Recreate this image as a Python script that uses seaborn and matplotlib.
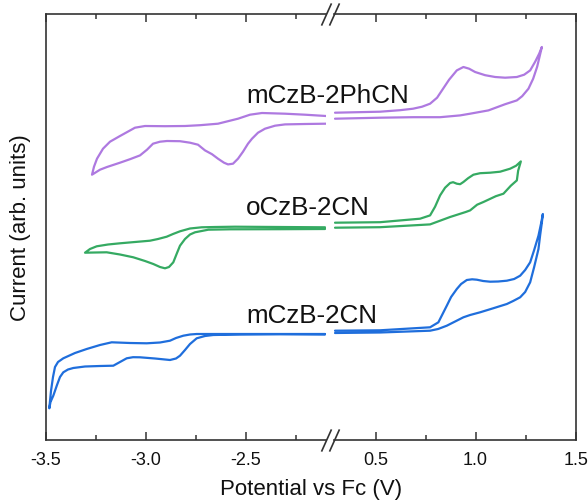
import numpy as np
import pandas as pd
import seaborn as sns
import matplotlib.pyplot as plt
from matplotlib.ticker import MultipleLocator

# cyclic voltammograms, potential (V vs Fc) and current (arb. units)
# left = reduction window, right = oxidation window
v_ph_left = [-2.099, -2.204, -2.304, -2.419, -2.479, -2.539, -2.589, -2.639, -2.729, -2.804,
             -2.904, -3.004, -3.054, -3.129, -3.179, -3.214, -3.244, -3.259, -3.269,
             -3.229, -3.194, -3.129, -3.079, -3.029, -2.994, -2.964, -2.929, -2.894, -2.829,
             -2.779, -2.739, -2.704, -2.669, -2.639, -2.609, -2.589, -2.564, -2.539, -2.514,
             -2.489, -2.469, -2.439, -2.404, -2.354, -2.304, -2.204, -2.099]
i_ph_left = [32.37, 32.5, 32.6, 32.67, 32.5, 32.1, 31.85, 31.6, 31.45, 31.37,
             31.35, 31.37, 31.2, 30.37, 29.8, 29.1, 28.1, 27.3, 26.5,
             27.0, 27.27, 27.7, 28.05, 28.43, 29.0, 29.6, 29.8, 29.87, 29.85,
             29.7, 29.5, 28.93, 28.55, 28.1, 27.7, 27.53, 27.6, 28.1, 28.8,
             29.6, 30.1, 30.7, 31.1, 31.4, 31.53, 31.57, 31.6]
v_ph_right = [0.2975, 0.5225, 0.6225, 0.6875, 0.7325, 0.7725, 0.8075, 0.8375, 0.8675, 0.906,
              0.939, 0.9675, 0.9975, 1.0475, 1.0975, 1.1475, 1.206, 1.2425, 1.2725, 1.2975,
              1.3175, 1.331, 1.3075, 1.2875, 1.264, 1.2325, 1.206, 1.1475, 1.064, 0.9725,
              0.9225, 0.8225, 0.6875, 0.5225, 0.2975]
i_ph_right = [32.7, 32.8, 32.95, 33.1, 33.3, 33.6, 34.2, 35.1, 36.0, 36.93,
              37.27, 37.1, 36.77, 36.45, 36.27, 36.2, 36.27, 36.5, 36.93, 37.8,
              38.6, 39.27, 37.3, 36.1, 35.1, 34.35, 33.93, 33.55, 32.93, 32.6,
              32.43, 32.25, 32.25, 32.2, 32.1]

v_o_left = [-2.104, -2.329, -2.554, -2.654, -2.7205, -2.779, -2.829, -2.864, -2.8955, -2.939,
            -2.979, -3.054, -3.129, -3.189, -3.2455, -3.279, -3.304,
            -3.254, -3.1955, -3.129, -3.0625, -3.004, -2.9625, -2.929, -2.904, -2.884,
            -2.8625, -2.844, -2.829, -2.804, -2.779, -2.754, -2.6875, -2.579, -2.329, -2.104]
i_o_left = [21.24, 21.27, 21.3, 21.27, 21.24, 21.12, 20.84, 20.57, 20.3, 20.07,
            19.9, 19.77, 19.64, 19.52, 19.34, 19.07, 18.7,
            18.72, 18.74, 18.52, 18.24, 17.87, 17.57, 17.27, 17.14, 17.27,
            17.74, 18.67, 19.4, 20.07, 20.52, 20.74, 21.0, 21.04, 21.05, 21.07]
v_o_right = [0.2975, 0.5225, 0.7225, 0.7725, 0.7975, 0.8225, 0.8475, 0.8725, 0.8875, 0.906,
             0.9225, 0.939, 0.9625, 0.989, 1.0225, 1.0725, 1.1225, 1.1725, 1.2025, 1.226,
             1.2125, 1.206, 1.176, 1.139, 1.101, 1.039, 1.0075, 0.9725, 0.9505, 0.8725,
             0.8225, 0.7725, 0.5225, 0.2975]
i_o_right = [21.7, 21.75, 22.1, 22.43, 23.3, 24.43, 25.2, 25.67, 25.75, 25.6,
             25.55, 25.77, 26.15, 26.5, 26.65, 26.7, 26.8, 27.1, 27.4, 27.83,
             26.9, 25.93, 25.4, 24.6, 24.35, 23.77, 23.5, 22.93, 22.77, 22.27,
             21.9, 21.53, 21.25, 21.2]

v_m_left = [-2.104, -2.429, -2.629, -2.7455, -2.779, -2.8125, -2.849, -2.879, -2.929, -2.9955,
            -3.079, -3.1705, -3.229, -3.2955, -3.354, -3.4125, -3.439, -3.454, -3.464, -3.474,
            -3.4825, -3.4765, -3.4625, -3.444, -3.429, -3.4125, -3.389, -3.3625, -3.304, -3.229,
            -3.1625, -3.129, -3.0955, -3.064, -3.029, -2.954, -2.879, -2.849, -2.829, -2.804,
            -2.779, -2.7455, -2.704, -2.6625, -2.529, -2.329, -2.104]
i_m_left = [10.57, 10.57, 10.57, 10.57, 10.52, 10.4, 10.17, 9.9, 9.72, 9.64,
            9.67, 9.74, 9.47, 9.07, 8.67, 8.14, 7.77, 7.27, 6.27, 4.87,
            3.14, 3.77, 4.4, 5.47, 6.27, 6.74, 7.02, 7.17, 7.32, 7.37,
            7.4, 7.77, 8.14, 8.25, 8.24, 8.12, 7.97, 8.12, 8.4, 8.97,
            9.57, 10.14, 10.37, 10.47, 10.52, 10.55, 10.52]
v_m_right = [0.2975, 0.5225, 0.7725, 0.814, 0.8325, 0.856, 0.8775, 0.906, 0.9275, 0.956,
             0.9825, 1.006, 1.0375, 1.0725, 1.1125, 1.156, 1.1925, 1.2225, 1.2475, 1.2725,
             1.2925, 1.314, 1.3275, 1.336, 1.33, 1.3225, 1.314, 1.2925, 1.2725, 1.2475,
             1.2225, 1.1875, 1.156, 1.0875, 1.0225, 0.9725, 0.939, 0.8975, 0.856, 0.8125,
             0.7725, 0.5225, 0.2975]
i_m_right = [10.9, 10.94, 11.24, 11.74, 12.47, 13.4, 14.27, 15.07, 15.57, 15.97,
             16.04, 16.0, 15.87, 15.8, 15.82, 15.9, 16.07, 16.4, 16.97, 17.74,
             18.97, 20.4, 21.67, 22.57, 21.57, 20.47, 19.07, 17.27, 15.74, 14.77,
             14.24, 13.87, 13.57, 13.14, 12.74, 12.47, 12.24, 11.82, 11.4, 11.07,
             10.9, 10.72, 10.67]

names = ['mCzB-2PhCN', 'oCzB-2CN', 'mCzB-2CN']
colors = ['#ae79e0', '#35aa62', '#1f6edc']
label_base = [103, 215, 323]   # text baseline, pixels from top

sns.set_theme(style='ticks')
plt.rcParams['font.family'] = ['Liberation Sans', 'DejaVu Sans']
plt.rcParams['axes.unicode_minus'] = False

W, H = 588, 502
fig = plt.figure(figsize=(W / 100, H / 100), dpi=100)
x0, x_gap0, x_gap1, x1 = 45.8, 326.0, 334.0, 575.7
y_top, y_bot = 15.0, 440.7
ax1 = fig.add_axes([x0 / W, 1 - y_bot / H, (x_gap0 - x0) / W, (y_bot - y_top) / H])
ax2 = fig.add_axes([x_gap1 / W, 1 - y_bot / H, (x1 - x_gap1) / W, (y_bot - y_top) / H])

left = [(v_ph_left, i_ph_left), (v_o_left, i_o_left), (v_m_left, i_m_left)]
right = [(v_ph_right, i_ph_right), (v_o_right, i_o_right), (v_m_right, i_m_right)]

for (vl, il), (vr, ir), c in zip(left, right, colors):
    dl = pd.DataFrame({'V': vl, 'I': il})
    dr = pd.DataFrame({'V': vr, 'I': ir})
    sns.lineplot(data=dl, x='V', y='I', sort=False, estimator=None, color=c, lw=1.6, ax=ax1)
    sns.lineplot(data=dr, x='V', y='I', sort=False, estimator=None, color=c, lw=1.6, ax=ax2)

ax1.set_xlim(-3.5, -3.5 + (x_gap0 - x0) / 200)
ax2.set_xlim(0.5 + (x_gap1 - 375.5) / 200, 1.5)
ymax = (y_bot - y_top) / 10
for ax in (ax1, ax2):
    ax.set_ylim(0, ymax)
    ax.set_yticks([])
    ax.set_xlabel('')
    ax.set_ylabel('')
    for s in ax.spines.values():
        s.set_color('#333333')
        s.set_linewidth(1.2)
    ax.tick_params(axis='x', which='both', direction='in', top=True, bottom=True,
                   color='#333333', width=1.1, labelsize=13, pad=8, labelcolor='#111111')
    ax.tick_params(axis='x', which='major', length=6)
    ax.tick_params(axis='x', which='minor', length=3.3)
    ax.xaxis.set_minor_locator(MultipleLocator(0.25))

ax1.set_xticks([-3.5, -3.0, -2.5])
ax1.set_xticklabels(['-3.5', '-3.0', '-2.5'])
ax2.set_xticks([0.5, 1.0, 1.5])
ax2.set_xticklabels(['0.5', '1.0', '1.5'])
ax1.spines['right'].set_visible(False)
ax2.spines['left'].set_visible(False)

# break marks
kw = dict(marker=[(-0.45, -1), (0.45, 1)], markersize=16, linestyle='none',
          color='#333333', mec='#333333', mew=1.2, clip_on=False)
ax1.plot([1, 1], [0, 1], transform=ax1.transAxes, **kw)
ax2.plot([0, 0], [0, 1], transform=ax2.transAxes, **kw)

for n, yb in zip(names, label_base):
    fig.text(246 / W, 1 - yb / H, n, ha='left', va='baseline', fontsize=18.7, color='#111111')

fig.text((x0 + x1) / 2 / W, 1 - 490 / H, 'Potential vs Fc (V)', ha='center', va='center',
         fontsize=16, color='#111111')
fig.text(20.6 / W, 1 - (y_top + y_bot) / 2 / H, 'Current (arb. units)', ha='center', va='center',
         rotation=90, fontsize=16, color='#111111')

fig.savefig('out.png', dpi=100)
